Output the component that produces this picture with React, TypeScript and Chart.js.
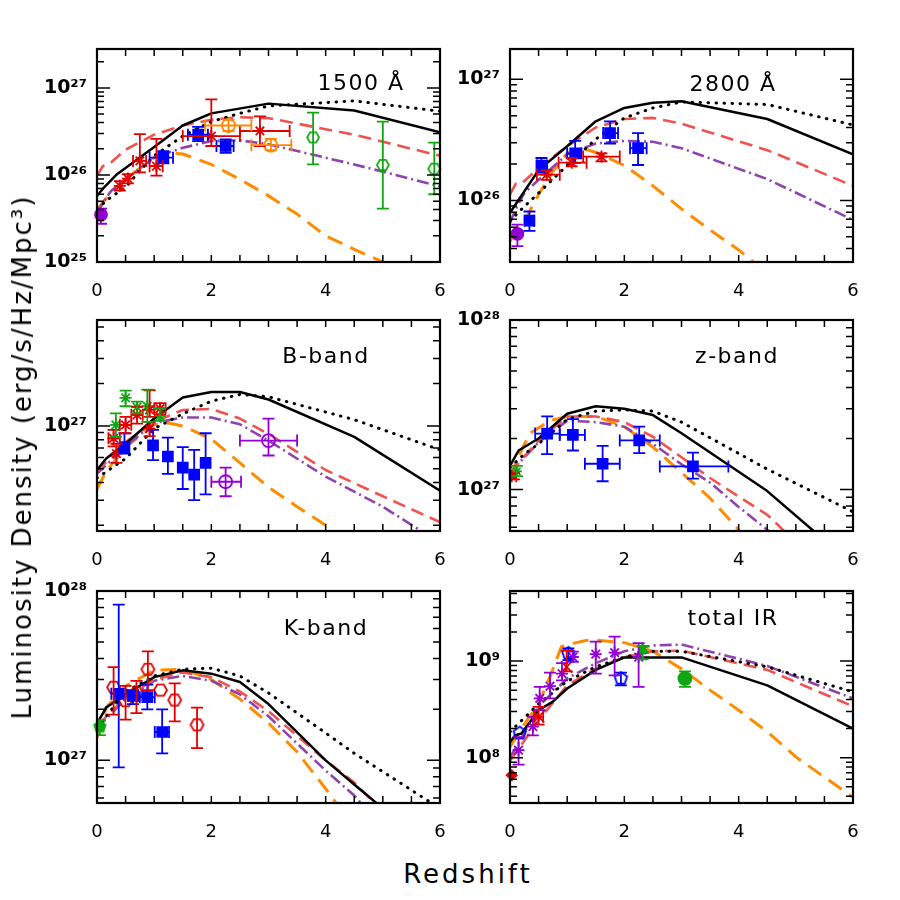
import React, { useEffect, useRef } from "react";
import { Chart, registerables } from "chart.js";

Chart.register(...registerables);

type Pt = [number, number];
// observation rows: [z, L, zLow, zHigh, LLow, LHigh]
type Obs = [number, number, number, number, number, number];

const X_TICKS = [0, 2, 4, 6];
const SUP_DIGITS = ["⁰", "¹", "²", "³", "⁴", "⁵", "⁶", "⁷", "⁸", "⁹"];
const Y_TITLE = "Luminosity Density (erg/s/Hz/Mpc³)";
const X_TITLE = "Redshift";

// ---------------- 1500 Å ----------------
const uv1500Solid: Pt[] = [[0, 5.75e25], [0.1, 6.9e25], [0.35, 1.02e26], [0.5, 1.2e26], [1, 2.1e26], [1.5, 3.7e26], [2, 5.1e26], [3, 6.6e26], [4.5, 5.5e26], [6, 3.1e26]];
const uv1500Dotted: Pt[] = [[0, 4.1e25], [0.25, 5.6e25], [0.5, 7.2e25], [0.75, 1.12e26], [1, 1.66e26], [1.5, 2.8e26], [2, 4.1e26], [2.5, 5.1e26], [3, 6.2e26], [4.5, 7.1e26], [6, 5.4e26]];
const uv1500Dashed: Pt[] = [[0, 9.8e25], [0.1, 1.26e26], [0.25, 1.4e26], [0.5, 1.95e26], [1, 2.9e26], [1.5, 3.7e26], [2, 4.3e26], [2.5, 4.6e26], [3, 4.5e26], [4.5, 2.9e26], [6, 1.66e26]];
const uv1500DashDot: Pt[] = [[0, 3.5e25], [0.1, 4.8e25], [0.25, 6.6e25], [0.5, 8.9e25], [1, 1.58e26], [1.5, 2.05e26], [2, 2.45e26], [2.5, 2.5e26], [3, 2.25e26], [4.5, 1.32e26], [6, 7.4e25]];
const uv1500LongDash: Pt[] = [[0, 4.0e25], [0.25, 6.3e25], [0.5, 8.9e25], [0.75, 1.2e26], [1, 1.58e26], [1.25, 1.82e26], [1.5, 1.74e26], [2, 1.32e26], [2.5, 8.9e25], [3, 5.75e25], [3.5, 3.55e25], [4, 2.0e25], [4.5, 1.4e25], [5, 1.0e25], [5.5, 6.5e24]];
const uv1500Red: Obs[] = [
  [0.4, 7.5e25, 0.4, 0.4, 6.6e25, 8.5e25],
  [0.54, 9.1e25, 0.54, 0.54, 8.0e25, 1.02e26],
  [0.75, 1.45e26, 0.63, 0.86, 1.07e26, 2.95e26],
  [1.04, 1.26e26, 0.92, 1.15, 9.8e25, 2.6e26],
  [2.0, 2.8e26, 1.5, 2.5, 2.15e26, 7.4e26],
  [2.85, 3.2e26, 2.5, 3.37, 2.15e26, 4.7e26],
];
const uv1500Blue: Obs[] = [
  [1.16, 1.58e26, 0.92, 1.33, 1.36e26, 1.88e26],
  [1.77, 2.9e26, 1.59, 1.94, 2.45e26, 3.57e26],
  [2.25, 2.15e26, 2.09, 2.39, 1.8e26, 2.56e26],
];
const uv1500Orange: Obs[] = [
  [2.3, 3.7e26, 1.89, 2.7, 3.2e26, 4.3e26],
  [3.04, 2.2e26, 2.7, 3.4, 1.93e26, 2.6e26],
];
const uv1500Green: Obs[] = [
  [3.78, 2.7e26, 3.78, 3.78, 1.32e26, 5.2e26],
  [5.0, 1.3e26, 5.0, 5.0, 4.1e25, 4.1e26],
  [5.9, 1.18e26, 5.9, 5.9, 6.0e25, 2.35e26],
];
const uv1500Purple: Obs[] = [[0.07, 3.5e25, 0.07, 0.07, 2.75e25, 4.1e25]];

// ---------------- 2800 Å ----------------
const uv2800Solid: Pt[] = [[0, 7.9e25], [0.12, 9.6e25], [0.5, 1.78e26], [1, 2.8e26], [1.5, 4.5e26], [2, 5.8e26], [2.5, 6.4e26], [3, 6.6e26], [4.5, 4.7e26], [6, 2.4e26]];
const uv2800Dotted: Pt[] = [[0, 6.8e25], [0.25, 8.9e25], [0.5, 1.15e26], [1, 1.95e26], [1.5, 3.2e26], [2, 4.8e26], [2.5, 5.8e26], [3, 6.5e26], [4.5, 6.2e26], [6, 4.2e26]];
const uv2800Dashed: Pt[] = [[0, 1.12e26], [0.1, 1.37e26], [0.2, 1.37e26], [0.5, 1.86e26], [1, 2.8e26], [1.5, 4.0e26], [2, 4.7e26], [2.5, 4.8e26], [3, 4.3e26], [4.5, 2.6e26], [6, 1.32e26]];
const uv2800DashDot: Pt[] = [[0, 6.5e25], [0.1, 8.5e25], [0.25, 1.15e26], [0.5, 1.48e26], [1, 2.4e26], [1.5, 2.95e26], [2, 3.1e26], [2.5, 3.05e26], [3, 2.7e26], [4.5, 1.5e26], [6, 6.9e25]];
const uv2800LongDash: Pt[] = [[0, 4.6e25], [0.25, 6.7e25], [0.5, 1.12e26], [0.75, 1.74e26], [1, 2.45e26], [1.25, 2.7e26], [1.5, 2.5e26], [2, 1.94e26], [2.5, 1.32e26], [3, 8.5e25], [3.5, 5.7e25], [4, 3.9e25], [4.5, 2.5e25]];
const uv2800Blue: Obs[] = [
  [0.34, 6.8e25, 0.26, 0.42, 5.6e25, 8.1e25],
  [0.55, 1.94e26, 0.47, 0.65, 1.7e26, 2.24e26],
  [1.14, 2.45e26, 1.0, 1.25, 2.04e26, 3.1e26],
  [1.75, 3.6e26, 1.63, 1.89, 2.95e26, 4.5e26],
  [2.24, 2.7e26, 2.1, 2.39, 1.96e26, 3.6e26],
];
const uv2800Red: Obs[] = [
  [0.64, 1.63e26, 0.47, 0.87, 1.48e26, 1.78e26],
  [1.08, 2.05e26, 0.85, 1.34, 1.91e26, 2.24e26],
  [1.6, 2.3e26, 1.28, 1.92, 2.1e26, 2.45e26],
];
const uv2800Purple: Obs[] = [[0.13, 5.3e25, 0.13, 0.13, 4.2e25, 6.3e25]];

// ---------------- B-band ----------------
const bSolid: Pt[] = [[0, 4.9e26], [0.16, 5.9e26], [0.5, 7.5e26], [1, 1.13e27], [1.5, 1.59e27], [2, 1.74e27], [2.5, 1.74e27], [3, 1.54e27], [4.5, 8.4e26], [6, 3.5e26]];
const bDotted: Pt[] = [[0, 4.3e26], [0.5, 5.9e26], [1, 9.6e26], [1.5, 1.22e27], [2, 1.5e27], [2.5, 1.67e27], [3, 1.61e27], [4.5, 1.11e27], [6, 6.8e26]];
const bDashed: Pt[] = [[0, 4.8e26], [0.5, 7.7e26], [1, 1.07e27], [1.5, 1.3e27], [2, 1.32e27], [2.5, 1.13e27], [3, 8.8e26], [4, 4.9e26], [5, 3.2e26], [6, 2.1e26]];
const bDashDot: Pt[] = [[0, 4.6e26], [0.5, 7.2e26], [1, 1.05e27], [1.5, 1.15e27], [2, 1.15e27], [2.5, 1.03e27], [3, 7.9e26], [4, 4.4e26], [5, 2.7e26], [6, 1.5e26]];
const bLongDash: Pt[] = [[0, 3.6e26], [0.16, 4.8e26], [0.5, 7.1e26], [1, 1.02e27], [1.25, 1.05e27], [1.5, 1.0e27], [2, 8.1e26], [2.5, 5.5e26], [3, 3.7e26], [3.5, 2.7e26], [4, 2.0e26], [4.5, 1.3e26]];
const bGreen: Obs[] = [
  [0.33, 1.02e27, 0.33, 0.33, 8.4e26, 1.23e27],
  [0.5, 1.58e27, 0.5, 0.5, 1.38e27, 1.78e27],
  [0.7, 1.36e27, 0.7, 0.7, 1.23e27, 1.49e27],
  [0.88, 1.38e27, 0.88, 0.88, 1.07e27, 1.81e27],
  [1.1, 1.18e27, 1.1, 1.1, 1.09e27, 1.33e27],
];
const bRed: Obs[] = [
  [0.29, 8.2e26, 0.2, 0.4, 7.2e26, 9.4e26],
  [0.34, 6.4e26, 0.34, 0.34, 5.5e26, 7.5e26],
  [0.5, 1.02e27, 0.4, 0.6, 8.9e26, 1.16e27],
  [0.7, 1.2e27, 0.6, 0.8, 1.04e27, 1.37e27],
  [0.92, 1.3e27, 0.92, 0.92, 1.16e27, 1.79e27],
  [0.92, 9.6e26, 0.92, 0.92, 8.5e26, 1.07e27],
  [1.1, 1.33e27, 1.0, 1.2, 1.21e27, 1.45e27],
];
const bBlue: Obs[] = [
  [0.48, 7.1e26, 0.48, 0.48, 6.4e26, 8.9e26],
  [0.98, 7.3e26, 0.98, 0.98, 5.75e26, 9.4e26],
  [1.24, 6.1e26, 1.24, 1.24, 4.6e26, 8.3e26],
  [1.5, 5.1e26, 1.5, 1.5, 3.6e26, 7.1e26],
  [1.7, 4.55e26, 1.7, 1.7, 3.0e26, 6.8e26],
  [1.9, 5.5e26, 1.9, 1.9, 3.3e26, 8.9e26],
];
const bPurple: Obs[] = [
  [2.25, 4.05e26, 2.0, 2.52, 3.2e26, 5.1e26],
  [3.0, 7.9e26, 2.5, 3.5, 6.2e26, 1.13e27],
];

// ---------------- z-band ----------------
const zSolid: Pt[] = [[0, 1.38e27], [0.15, 1.7e27], [0.5, 2.0e27], [1, 2.8e27], [1.5, 3.1e27], [2, 3.0e27], [2.5, 2.75e27], [3, 2.15e27], [4.5, 9.8e26], [6, 3.6e26]];
const zDotted: Pt[] = [[0, 1.35e27], [0.25, 1.62e27], [0.5, 1.86e27], [1, 2.6e27], [1.5, 2.9e27], [2, 2.95e27], [2.5, 2.9e27], [3, 2.5e27], [4.5, 1.32e27], [6, 7.4e26]];
const zDashed: Pt[] = [[0, 1.26e27], [0.5, 1.95e27], [1, 2.7e27], [1.5, 2.7e27], [2, 2.5e27], [2.5, 2.05e27], [3, 1.55e27], [3.5, 1.17e27], [4, 9.1e26], [4.5, 7.1e26], [5, 4.9e26]];
const zDashDot: Pt[] = [[0, 1.26e27], [0.5, 1.9e27], [1, 2.55e27], [1.5, 2.5e27], [2, 2.35e27], [2.5, 1.86e27], [3, 1.41e27], [3.5, 1.1e27], [4, 7.9e26], [4.5, 5.8e26], [5, 4.0e26]];
const zLongDash: Pt[] = [[0, 1.17e27], [0.15, 1.58e27], [0.35, 2.15e27], [0.7, 2.55e27], [1, 2.7e27], [1.5, 2.7e27], [2, 2.35e27], [2.5, 1.78e27], [3, 1.26e27], [3.5, 8.9e26], [4, 5.8e26], [4.5, 3.6e26]];
const zBlue: Obs[] = [
  [0.65, 2.14e27, 0.44, 0.87, 1.62e27, 2.7e27],
  [1.1, 2.1e27, 0.87, 1.31, 1.7e27, 2.6e27],
  [1.62, 1.42e27, 1.31, 1.92, 1.12e27, 1.81e27],
  [2.26, 1.95e27, 1.92, 2.62, 1.64e27, 2.35e27],
  [3.2, 1.37e27, 2.62, 3.82, 1.16e27, 1.65e27],
];
const zGreen: Obs[] = [[0.12, 1.28e27, 0.12, 0.12, 1.2e27, 1.38e27]];
const zRed: Obs[] = [[0.07, 1.2e27, 0.03, 0.11, 1.15e27, 1.25e27]];

// ---------------- K-band ----------------
const kSolid: Pt[] = [[0, 1.65e27], [0.16, 2.05e27], [0.5, 2.45e27], [1, 3.1e27], [1.5, 3.4e27], [2, 3.25e27], [2.5, 2.9e27], [3, 2.15e27], [4, 1.0e27], [4.5, 7.2e26], [5, 5.2e26], [6, 2.6e26]];
const kDotted: Pt[] = [[0, 1.55e27], [0.5, 2.55e27], [1, 3.15e27], [1.5, 3.45e27], [2, 3.5e27], [2.5, 3.15e27], [3, 2.5e27], [4, 1.45e27], [4.5, 1.1e27], [6, 5.2e26]];
const kDashed: Pt[] = [[0, 1.6e27], [0.5, 2.35e27], [1, 3.0e27], [1.5, 3.3e27], [2, 3.1e27], [2.5, 2.55e27], [3, 1.95e27], [4, 1.0e27], [4.5, 7.4e26], [5, 5.0e26]];
const kDashDot: Pt[] = [[0, 1.55e27], [0.5, 2.3e27], [1, 2.95e27], [1.5, 3.15e27], [2, 2.95e27], [2.5, 2.45e27], [3, 1.82e27], [4, 8.7e26], [4.5, 6.2e26], [5, 4.0e26]];
const kLongDash: Pt[] = [[0, 1.35e27], [0.16, 2.05e27], [0.5, 2.75e27], [1, 3.4e27], [1.5, 3.45e27], [2, 3.0e27], [2.5, 2.3e27], [3, 1.66e27], [3.5, 1.12e27], [4, 6.8e26], [4.5, 4.0e26]];
const kGreen: Obs[] = [[0.05, 1.58e27, 0.05, 0.05, 1.41e27, 1.73e27]];
const kBlue: Obs[] = [
  [0.38, 2.47e27, 0.25, 0.5, 9.1e26, 8.3e27],
  [0.63, 2.4e27, 0.55, 0.72, 2.15e27, 2.6e27],
  [0.88, 2.36e27, 0.75, 1.01, 2.0e27, 2.8e27],
  [1.14, 1.47e27, 1.01, 1.26, 1.1e27, 2.0e27],
];
const kRed: Obs[] = [
  [0.29, 2.7e27, 0.29, 0.29, 1.86e27, 3.55e27],
  [0.5, 2.25e27, 0.5, 0.5, 1.74e27, 2.75e27],
  [0.69, 2.5e27, 0.69, 0.69, 1.9e27, 2.95e27],
  [0.89, 3.45e27, 0.89, 0.89, 2.6e27, 4.4e27],
  [1.11, 2.6e27, 1.11, 1.11, 2.6e27, 2.6e27],
  [1.36, 2.27e27, 1.36, 1.36, 1.7e27, 2.85e27],
  [1.75, 1.62e27, 1.75, 1.75, 1.18e27, 2.05e27],
];

// ---------------- total IR ----------------
const irSolid: Pt[] = [[0, 1.45e8], [0.09, 1.7e8], [0.2, 1.78e8], [0.5, 3.1e8], [0.75, 3.8e8], [1, 5.2e8], [1.5, 8.1e8], [2, 1.09e9], [3, 1.09e9], [4.5, 5.6e8], [6, 2.0e8]];
const irDotted: Pt[] = [[0, 1.85e8], [0.5, 3.6e8], [1, 6.2e8], [1.5, 8.7e8], [2, 1.1e9], [2.5, 1.26e9], [3, 1.26e9], [4.5, 8.7e8], [6, 4.8e8]];
const irDashed: Pt[] = [[0, 9.3e7], [0.25, 1.5e8], [0.5, 2.45e8], [1, 5.6e8], [1.5, 8.3e8], [2, 1.1e9], [2.5, 1.26e9], [3, 1.28e9], [4.5, 8.1e8], [6, 3.4e8]];
const irDashDot: Pt[] = [[0, 1.0e8], [0.25, 1.8e8], [0.5, 3.4e8], [1, 6.6e8], [1.5, 9.5e8], [2, 1.26e9], [2.5, 1.45e9], [3, 1.48e9], [4.5, 8.9e8], [6, 4.1e8]];
const irLongDash: Pt[] = [[0, 1.3e8], [0.3, 2.45e8], [0.5, 3.6e8], [0.7, 6.9e8], [0.9, 1.41e9], [1, 1.48e9], [1.4, 1.66e9], [2, 1.55e9], [2.5, 1.26e9], [3, 8.3e8], [3.5, 5.0e8], [4, 3.1e8], [4.5, 1.86e8], [5, 1.02e8], [5.5, 6.3e7], [6, 3.9e7]];
const irRed: Obs[] = [[0.03, 6.6e7, 0.03, 0.03, 6.6e7, 6.6e7]];
const irBlue: Obs[] = [
  [0.17, 1.8e8, 0.17, 0.17, 1.8e8, 1.8e8],
  [1.02, 1.2e9, 1.02, 1.02, 1.02e9, 1.35e9],
  [1.94, 6.6e8, 1.94, 1.94, 5.6e8, 7.6e8],
];
const irPurple: Obs[] = [
  [0.15, 1.2e8, 0.15, 0.15, 8.5e7, 1.63e8],
  [0.4, 2.1e8, 0.4, 0.4, 1.7e8, 2.65e8],
  [0.52, 4.1e8, 0.52, 0.52, 3.1e8, 5.4e8],
  [0.7, 5.5e8, 0.7, 0.7, 4.1e8, 7.6e8],
  [0.91, 7.4e8, 0.91, 0.91, 6.3e8, 9.5e8],
  [1.1, 1.1e9, 1.1, 1.1, 9.8e8, 1.25e9],
  [1.5, 1.18e9, 1.5, 1.5, 7.4e8, 1.59e9],
  [1.83, 1.22e9, 1.83, 1.83, 7.1e8, 1.79e9],
  [2.25, 1.1e9, 2.25, 2.25, 5.4e8, 1.53e9],
];
const irRedX: Obs[] = [
  [0.5, 2.65e8, 0.43, 0.58, 2.2e8, 3.35e8],
  [0.99, 8.7e8, 0.99, 0.99, 7.8e8, 1.28e9],
];
const irGreenTri: Obs[] = [[2.32, 1.3e9, 2.32, 2.32, 1.04e9, 1.43e9]];
const irGreenDot: Obs[] = [[3.06, 6.6e8, 3.06, 3.06, 5.4e8, 7.8e8]];

// ---------------- styles ----------------
const FONT = "'DejaVu Sans', sans-serif";
const BLUE = "#0000ff";
const RED = "#e00000";
const GREEN = "#12a512";
const ORANGE_PT = "#ff8800";
const PURPLE_PT = "#9400d3";

const MODEL_STYLES = [
  { color: "#000000", width: 2.5, dash: [] as number[], cap: "butt" },
  { color: "#000000", width: 3, dash: [0.5, 7.5], cap: "round" },
  { color: "#ef5350", width: 2.6, dash: [13, 7], cap: "butt" },
  { color: "#8e44ad", width: 2.6, dash: [12, 4, 2, 4], cap: "butt" },
  { color: "#ff8c00", width: 3, dash: [16, 9], cap: "butt" },
];

const YW = 70, PT = 30, PR = 30, XH = 44;

const PANELS = [
  {
    id: "uv1500", box: [97, 49, 440, 262], yMin: 1e25, yMax: 2.8e27, label: "1500 Å", labelAt: [361, 82],
    models: [uv1500Solid, uv1500Dotted, uv1500Dashed, uv1500DashDot, uv1500LongDash],
    obs: [
      { data: uv1500Purple, shape: "circle", r: 6, color: PURPLE_PT, filled: true },
      { data: uv1500Blue, shape: "rect", r: 7, color: BLUE, filled: true },
      { data: uv1500Red, shape: "star", r: 6, color: RED, filled: false },
      { data: uv1500Orange, shape: "circle", r: 6.5, color: ORANGE_PT, filled: false },
      { data: uv1500Green, shape: "hex", r: 6, color: GREEN, filled: false },
    ],
  },
  {
    id: "uv2800", box: [510, 49, 853, 262], yMin: 3.1e25, yMax: 1.78e27, label: "2800 Å", labelAt: [733, 83],
    models: [uv2800Solid, uv2800Dotted, uv2800Dashed, uv2800DashDot, uv2800LongDash],
    obs: [
      { data: uv2800Purple, shape: "circle", r: 6, color: PURPLE_PT, filled: true },
      { data: uv2800Blue, shape: "rect", r: 7, color: BLUE, filled: true },
      { data: uv2800Red, shape: "star", r: 6, color: RED, filled: false },
    ],
  },
  {
    id: "bband", box: [97, 320, 440, 531], yMin: 1.82e26, yMax: 5.6e27, label: "B-band", labelAt: [326, 355],
    models: [bSolid, bDotted, bDashed, bDashDot, bLongDash],
    obs: [
      { data: bBlue, shape: "rect", r: 7, color: BLUE, filled: true },
      { data: bRed, shape: "star", r: 6, color: RED, filled: false },
      { data: bGreen, shape: "star", r: 6, color: GREEN, filled: false },
      { data: bPurple, shape: "circle", r: 6.5, color: PURPLE_PT, filled: false },
    ],
  },
  {
    id: "zband", box: [510, 320, 853, 531], yMin: 5.7e26, yMax: 1e28, label: "z-band", labelAt: [737, 355],
    models: [zSolid, zDotted, zDashed, zDashDot, zLongDash],
    obs: [
      { data: zBlue, shape: "rect", r: 7, color: BLUE, filled: true },
      { data: zRed, shape: "star", r: 4, color: RED, filled: false },
      { data: zGreen, shape: "star", r: 5, color: GREEN, filled: false },
    ],
  },
  {
    id: "kband", box: [97, 591, 440, 803], yMin: 5.6e26, yMax: 1e28, label: "K-band", labelAt: [326, 627],
    models: [kSolid, kDotted, kDashed, kDashDot, kLongDash],
    obs: [
      { data: kGreen, shape: "pent", r: 6, color: GREEN, filled: true },
      { data: kBlue, shape: "rect", r: 7, color: BLUE, filled: true },
      { data: kRed, shape: "hex", r: 6.5, color: RED, filled: false },
    ],
  },
  {
    id: "ir", box: [510, 591, 853, 803], yMin: 3.4e7, yMax: 5.3e9, label: "total IR", labelAt: [733, 617],
    models: [irSolid, irDotted, irDashed, irDashDot, irLongDash],
    obs: [
      { data: irRed, shape: "rectRot", r: 5, color: RED, filled: true },
      { data: irBlue, shape: "pent", r: 6.5, color: BLUE, filled: false },
      { data: irPurple, shape: "star", r: 6, color: PURPLE_PT, filled: false },
      { data: irRedX, shape: "crossRot", r: 8, color: RED, filled: false },
      { data: irGreenTri, shape: "triangle", r: 6, color: GREEN, filled: true },
      { data: irGreenDot, shape: "circle", r: 6.5, color: GREEN, filled: true },
    ],
  },
];

function supExp(n: number) {
  return String(n).split("").map((d) => SUP_DIGITS[+d]).join("");
}

function polygonCanvas(sides: number, r: number, color: string, filled: boolean, rot: number) {
  const lw = 1.8;
  const s = Math.ceil(2 * r + 2 * lw + 2);
  const c = document.createElement("canvas");
  c.width = s;
  c.height = s;
  const g = c.getContext("2d") as CanvasRenderingContext2D;
  g.beginPath();
  for (let i = 0; i < sides; i++) {
    const a = rot + (i * 2 * Math.PI) / sides;
    const px = s / 2 + r * Math.cos(a);
    const py = s / 2 + r * Math.sin(a);
    if (i === 0) g.moveTo(px, py);
    else g.lineTo(px, py);
  }
  g.closePath();
  if (filled) {
    g.fillStyle = color;
    g.fill();
  }
  g.strokeStyle = color;
  g.lineWidth = lw;
  g.stroke();
  return c;
}

function pointStyleFor(o: any): any {
  if (o.shape === "hex") return polygonCanvas(6, o.r, o.color, o.filled, 0);
  if (o.shape === "pent") return polygonCanvas(5, o.r, o.color, o.filled, -Math.PI / 2);
  return o.shape;
}

const errorBarPlugin = {
  id: "errorBars",
  afterDatasetsDraw(chart: any) {
    const { ctx, chartArea: a, scales } = chart;
    const xs = scales.x;
    const ys = scales.y;
    ctx.save();
    ctx.beginPath();
    ctx.rect(a.left, a.top, a.right - a.left, a.bottom - a.top);
    ctx.clip();
    const cap = 6;
    chart.data.datasets.forEach((ds: any) => {
      if (!ds.errs) return;
      ctx.strokeStyle = ds.errColor;
      ctx.lineWidth = 1.8;
      ds.errs.forEach((e: Obs) => {
        const [z, L, zl, zh, ll, lh] = e;
        const px = xs.getPixelForValue(z);
        const py = ys.getPixelForValue(L);
        ctx.beginPath();
        if (ll !== lh) {
          const y1 = ys.getPixelForValue(ll);
          const y2 = ys.getPixelForValue(lh);
          ctx.moveTo(px, y1);
          ctx.lineTo(px, y2);
          ctx.moveTo(px - cap, y1);
          ctx.lineTo(px + cap, y1);
          ctx.moveTo(px - cap, y2);
          ctx.lineTo(px + cap, y2);
        }
        if (zl !== zh) {
          const x1 = xs.getPixelForValue(zl);
          const x2 = xs.getPixelForValue(zh);
          ctx.moveTo(x1, py);
          ctx.lineTo(x2, py);
          ctx.moveTo(x1, py - cap);
          ctx.lineTo(x1, py + cap);
          ctx.moveTo(x2, py - cap);
          ctx.lineTo(x2, py + cap);
        }
        ctx.stroke();
      });
    });
    ctx.restore();
  },
};

const framePlugin = {
  id: "frameTicks",
  afterDraw(chart: any) {
    const { ctx, chartArea: a, scales } = chart;
    const xs = scales.x;
    const ys = scales.y;
    ctx.save();
    ctx.strokeStyle = "#000";
    ctx.lineWidth = 1.5;
    ctx.beginPath();
    for (let v = 0; v <= 6.0001; v += 0.5) {
      const px = xs.getPixelForValue(v);
      ctx.moveTo(px, a.bottom);
      ctx.lineTo(px, a.bottom - 7);
      ctx.moveTo(px, a.top);
      ctx.lineTo(px, a.top + 7);
    }
    const lo = Math.floor(Math.log10(ys.min));
    const hi = Math.ceil(Math.log10(ys.max));
    for (let e = lo; e <= hi; e++) {
      for (let k = 1; k <= 9; k++) {
        const v = k * Math.pow(10, e);
        if (v < ys.min * 0.9999 || v > ys.max * 1.0001) continue;
        const py = ys.getPixelForValue(v);
        const len = k === 1 ? 13 : 7;
        ctx.moveTo(a.left, py);
        ctx.lineTo(a.left + len, py);
        ctx.moveTo(a.right, py);
        ctx.lineTo(a.right - len, py);
      }
    }
    ctx.stroke();
    ctx.lineWidth = 2.2;
    ctx.strokeRect(a.left, a.top, a.right - a.left, a.bottom - a.top);
    ctx.restore();
  },
};

function Panel({ cfg }: { cfg: any }) {
  const ref = useRef<HTMLCanvasElement>(null);
  const [L, T, R, B] = cfg.box;
  const w = R - L + YW + PR;
  const h = B - T + PT + XH;

  useEffect(() => {
    const datasets: any[] = [];
    cfg.obs.forEach((o: any) => {
      datasets.push({
        showLine: false,
        data: o.data.map((d: Obs) => ({ x: d[0], y: d[1] })),
        errs: o.data,
        errColor: o.color,
        pointStyle: pointStyleFor(o),
        pointRadius: o.r,
        pointHoverRadius: o.r,
        pointBorderColor: o.color,
        pointBackgroundColor: o.filled ? o.color : "rgba(0,0,0,0)",
        pointBorderWidth: 1.8,
        borderColor: o.color,
        backgroundColor: o.filled ? o.color : "rgba(0,0,0,0)",
        clip: 12,
      });
    });
    cfg.models.forEach((m: Pt[], i: number) => {
      const st = MODEL_STYLES[i];
      datasets.push({
        showLine: true,
        data: m.map((p) => ({ x: p[0], y: p[1] })),
        borderColor: st.color,
        borderWidth: st.width,
        borderDash: st.dash,
        borderCapStyle: st.cap,
        borderJoinStyle: "round",
        pointRadius: 0,
        pointHoverRadius: 0,
        fill: false,
        tension: 0,
        clip: 0,
      });
    });

    const chart = new Chart(ref.current as HTMLCanvasElement, {
      type: "scatter",
      data: { datasets },
      options: {
        responsive: false,
        maintainAspectRatio: false,
        animation: false,
        devicePixelRatio: 1,
        events: [],
        layout: { padding: { left: 0, top: PT, right: PR, bottom: 0 } },
        plugins: { legend: { display: false }, tooltip: { enabled: false } },
        scales: {
          x: {
            type: "linear",
            min: 0,
            max: 6,
            afterBuildTicks: (s: any) => {
              s.ticks = X_TICKS.map((v) => ({ value: v }));
            },
            ticks: {
              callback: (v: any) => String(v),
              font: { family: FONT, size: 18 },
              color: "#000",
              padding: 19,
              maxRotation: 0,
              autoSkip: false,
            },
            grid: { display: false, drawTicks: false },
            border: { display: false },
            afterFit: (s: any) => {
              s.height = XH;
            },
          },
          y: {
            type: "logarithmic",
            min: cfg.yMin,
            max: cfg.yMax,
            ticks: {
              autoSkip: false,
              callback: (v: any) => {
                const n = Number(v);
                const e = Math.round(Math.log10(n));
                return Math.abs(n / Math.pow(10, e) - 1) < 1e-6 ? "10" + supExp(e) : "";
              },
              font: { family: FONT, size: 19, weight: "bold" },
              color: "#000",
              padding: 10,
            },
            grid: { display: false, drawTicks: false },
            border: { display: false },
            afterFit: (s: any) => {
              s.width = YW;
            },
          },
        },
      } as any,
      plugins: [errorBarPlugin, framePlugin],
    } as any);
    return () => chart.destroy();
  }, []);

  return (
    <canvas
      ref={ref}
      width={w}
      height={h}
      style={{ position: "absolute", left: L - YW, top: T - PT, width: w, height: h }}
    />
  );
}

export default function App() {
  return (
    <div
      style={{
        position: "absolute",
        left: 0,
        top: 0,
        width: 900,
        height: 900,
        background: "#ffffff",
        overflow: "hidden",
        fontFamily: FONT,
        color: "#000",
      }}
    >
      {PANELS.map((p) => (
        <Panel key={p.id} cfg={p} />
      ))}
      {PANELS.map((p) => (
        <div
          key={p.id + "-label"}
          style={{
            position: "absolute",
            left: p.labelAt[0],
            top: p.labelAt[1],
            transform: "translate(-50%, -50%)",
            fontSize: 22,
            letterSpacing: "1.5px",
            whiteSpace: "nowrap",
          }}
        >
          {p.label}
        </div>
      ))}
      <div
        style={{
          position: "absolute",
          left: 22,
          top: 457,
          transform: "translate(-50%, -50%) rotate(-90deg)",
          fontSize: 26,
          letterSpacing: "2px",
          whiteSpace: "nowrap",
        }}
      >
        {Y_TITLE}
      </div>
      <div
        style={{
          position: "absolute",
          left: 468,
          top: 874,
          transform: "translate(-50%, -50%)",
          fontSize: 26,
          letterSpacing: "3px",
          whiteSpace: "nowrap",
        }}
      >
        {X_TITLE}
      </div>
    </div>
  );
}
